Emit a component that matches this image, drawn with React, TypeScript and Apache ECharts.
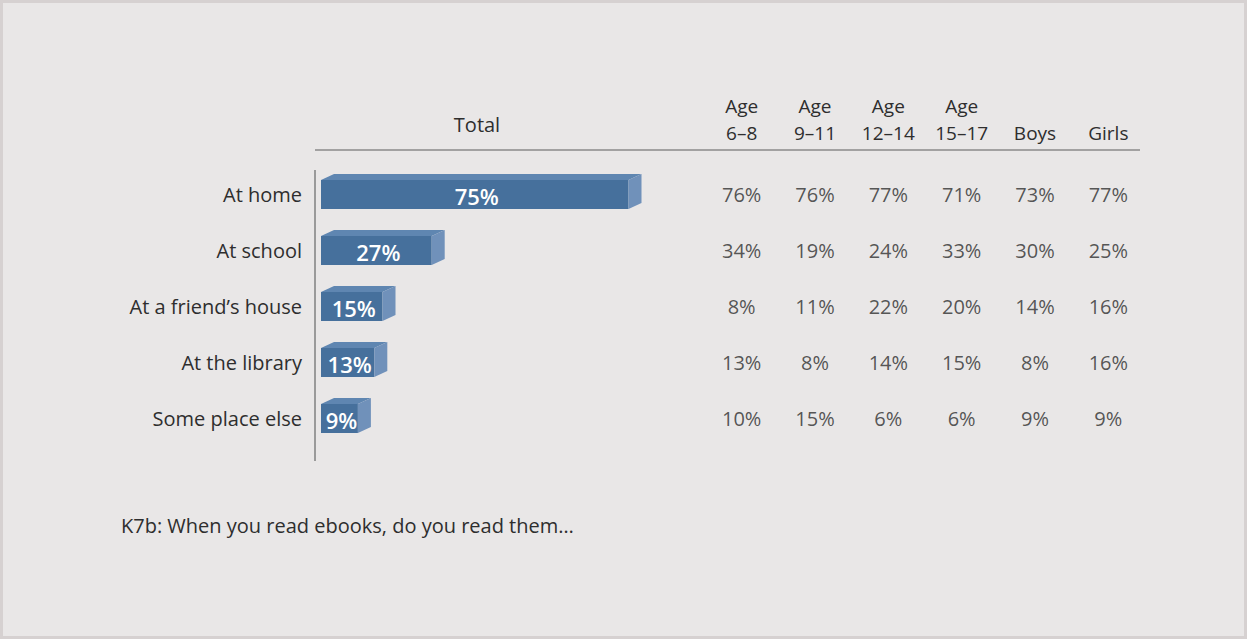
import React, { useEffect, useRef } from "react";
import * as echarts from "echarts";

const categories = ["At home", "At school", "At a friend’s house", "At the library", "Some place else"];
const totalValues = [75, 27, 15, 13, 9];
const columnLabelsTop = ["Age", "Age", "Age", "Age", "", ""];
const columnLabels = ["6–8", "9–11", "12–14", "15–17", "Boys", "Girls"];
const age6to8 = [76, 34, 8, 13, 10];
const age9to11 = [76, 19, 11, 8, 15];
const age12to14 = [77, 24, 22, 14, 6];
const age15to17 = [71, 33, 20, 15, 6];
const boys = [73, 30, 14, 8, 9];
const girls = [77, 25, 16, 16, 9];
const columns = [age6to8, age9to11, age12to14, age15to17, boys, girls];
const totalHeader = "Total";
const footnote = "K7b: When you read ebooks, do you read them…";

const FONT = "Open Sans";
const TEXT = "#2e2e2e";
const FS = 20;

export default function App() {
  const ref = useRef<HTMLDivElement>(null);
  useEffect(() => {
    document.body.style.margin = "0";
    const chart = echarts.init(ref.current!, undefined, { renderer: "svg" });
    const tableData: any[] = [];
    columns.forEach((col, ci) => col.forEach((v, ri) => tableData.push([ci, ri, v])));
    const headerAxis = (labels: string[], margin: number) => ({
      type: "category",
      gridIndex: 1,
      position: "top",
      data: labels,
      axisLine: { show: false },
      axisTick: { show: false },
      axisLabel: { margin, color: TEXT, fontSize: 19, fontFamily: FONT, interval: 0, verticalAlign: "middle" },
    });
    chart.setOption({
      animation: false,
      backgroundColor: "transparent",
      textStyle: { fontFamily: FONT },
      grid: [
        { left: 321, top: 166, width: 410, height: 280 },
        { left: 705, top: 166, width: 440, height: 280 },
      ],
      xAxis: [
        { type: "value", gridIndex: 0, min: 0, max: 100, show: false },
        headerAxis(columnLabels, 33.5),
        headerAxis(columnLabelsTop, 60),
      ],
      yAxis: [
        {
          type: "category",
          gridIndex: 0,
          inverse: true,
          data: categories,
          axisLine: { show: false },
          axisTick: { show: false },
          axisLabel: { margin: 19, color: TEXT, fontSize: FS, fontFamily: FONT },
        },
        { type: "category", gridIndex: 1, inverse: true, data: categories, show: false },
      ],
      series: [
        {
          type: "custom",
          xAxisIndex: 0,
          yAxisIndex: 0,
          encode: { x: 0, y: 1 },
          data: totalValues.map((v, i) => [v, i]),
          renderItem: (params: any, api: any) => {
            const v = api.value(0);
            const cat = api.value(1);
            const s = api.coord([0, cat]);
            const e = api.coord([v, cat]);
            const x0 = s[0];
            const x1 = e[0];
            const top = s[1] - 14;
            const bottom = s[1] + 15;
            const dx = 13;
            const dy = 6;
            return {
              type: "group",
              children: [
                { type: "rect", shape: { x: x0, y: top, width: x1 - x0, height: bottom - top }, style: { fill: "#46709c" } },
                {
                  type: "polygon",
                  shape: { points: [[x0, top], [x0 + dx, top - dy], [x1 + dx, top - dy], [x1, top]] },
                  style: { fill: "#5f86b1" },
                },
                {
                  type: "polygon",
                  shape: { points: [[x1, top], [x1 + dx, top - dy], [x1 + dx, bottom - dy], [x1, bottom]] },
                  style: { fill: "#7091ba" },
                },
                {
                  type: "text",
                  x: (x0 + x1) / 2 + 2,
                  y: (top + bottom) / 2 + 1,
                  style: {
                    text: v + "%",
                    fill: "#ffffff",
                    fontSize: 22,
                    fontWeight: 600,
                    fontFamily: FONT,
                    align: "center",
                    verticalAlign: "middle",
                  },
                },
              ],
            };
          },
        },
        {
          type: "scatter",
          xAxisIndex: 1,
          yAxisIndex: 1,
          symbolSize: 0,
          data: tableData,
          label: {
            show: true,
            position: "inside",
            color: TEXT,
            fontSize: FS,
            fontFamily: FONT,
            formatter: (p: any) => p.value[2] + "%",
          },
        },
      ],
      graphic: [
        { type: "line", shape: { x1: 315, y1: 150, x2: 1140, y2: 150 }, style: { stroke: "#8a8a8a", lineWidth: 1.5 } },
        { type: "line", shape: { x1: 315, y1: 170, x2: 315, y2: 461 }, style: { stroke: "#9a9a9a", lineWidth: 2 } },
        {
          type: "text",
          x: 477,
          y: 124,
          style: { text: totalHeader, fill: TEXT, fontSize: FS, fontFamily: FONT, align: "center", verticalAlign: "middle" },
        },
        {
          type: "text",
          x: 121,
          y: 525,
          style: { text: footnote, fill: TEXT, fontSize: FS, fontFamily: FONT, align: "left", verticalAlign: "middle" },
        },
      ],
    });
    return () => chart.dispose();
  }, []);
  return (
    <div
      style={{
        position: "fixed",
        left: 0,
        top: 0,
        width: 1247,
        height: 639,
        boxSizing: "border-box",
        background: "#e9e7e7",
        border: "3px solid #d6d1d1",
      }}
    >
      <div ref={ref} style={{ position: "absolute", left: -3, top: -3, width: 1247, height: 639 }} />
    </div>
  );
}
